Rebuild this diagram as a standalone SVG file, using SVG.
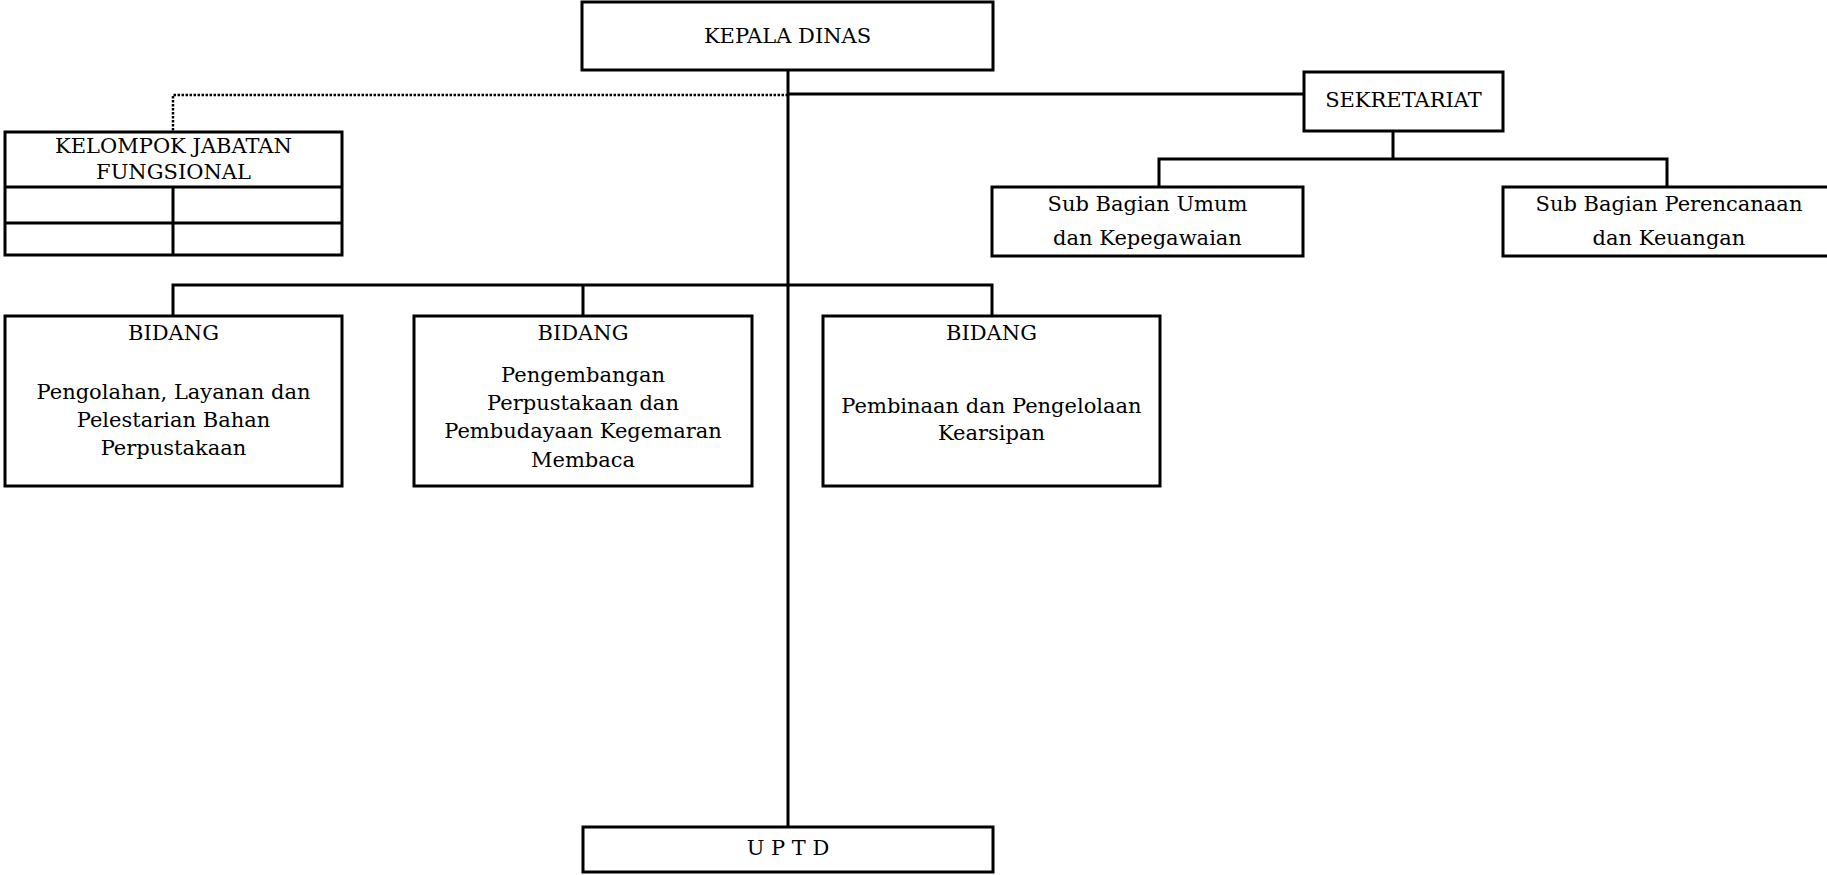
<svg xmlns="http://www.w3.org/2000/svg" width="1827" height="875" viewBox="0 0 1827 875">
<style>
.box{fill:#fff;stroke:#000;stroke-width:3}
.ln{fill:none;stroke:#000;stroke-width:3}
.dot{fill:none;stroke:#000;stroke-width:2.5;stroke-dasharray:2.5 1.5}
text{font-family:"DejaVu Serif","Liberation Serif",serif;font-size:21px;fill:#000;text-anchor:middle}
</style>
<rect width="1827" height="875" fill="#fff"/>
<g id="connectors">
<line class="ln" x1="788" y1="70" x2="788" y2="827"/>
<line class="ln" x1="788" y1="94" x2="1304" y2="94"/>
<path class="dot" d="M788 95 H173 V132"/>
<line class="ln" x1="1393" y1="131" x2="1393" y2="159"/>
<path class="ln" d="M1159 187 V159 H1667 V187"/>
<path class="ln" d="M173 316 V285 H992 V316"/>
<line class="ln" x1="583" y1="285" x2="583" y2="316"/>
</g>
<g id="kepala-dinas">
<rect class="box" x="582" y="2" width="411" height="68"/>
<text x="787.5" y="43">KEPALA DINAS</text>
</g>
<g id="kelompok-jabatan-fungsional">
<rect class="box" x="5" y="132" width="337" height="123"/>
<line class="ln" x1="5" y1="187" x2="342" y2="187"/>
<line class="ln" x1="5" y1="223" x2="342" y2="223"/>
<line class="ln" x1="173" y1="187" x2="173" y2="255"/>
<text x="173.5" y="153">KELOMPOK JABATAN</text>
<text x="173.5" y="179">FUNGSIONAL</text>
</g>
<g id="sekretariat">
<rect class="box" x="1304" y="72" width="199" height="59"/>
<text x="1403.5" y="107">SEKRETARIAT</text>
</g>
<g id="subbag-umum">
<rect class="box" x="992" y="187" width="311" height="69"/>
<text x="1147.5" y="211">Sub Bagian Umum</text>
<text x="1147.5" y="245">dan Kepegawaian</text>
</g>
<g id="subbag-perencanaan">
<rect class="box" x="1503" y="187" width="328" height="69"/>
<text x="1669" y="211">Sub Bagian Perencanaan</text>
<text x="1669" y="245">dan Keuangan</text>
</g>
<g id="bidang-1">
<rect class="box" x="5" y="316" width="337" height="170"/>
<text x="173.5" y="340">BIDANG</text>
<text x="173.5" y="399">Pengolahan, Layanan dan</text>
<text x="173.5" y="427">Pelestarian Bahan</text>
<text x="173.5" y="455">Perpustakaan</text>
</g>
<g id="bidang-2">
<rect class="box" x="414" y="316" width="338" height="170"/>
<text x="583" y="340">BIDANG</text>
<text x="583" y="382">Pengembangan</text>
<text x="583" y="410">Perpustakaan dan</text>
<text x="583" y="438">Pembudayaan Kegemaran</text>
<text x="583" y="467">Membaca</text>
</g>
<g id="bidang-3">
<rect class="box" x="823" y="316" width="337" height="170"/>
<text x="991.5" y="340">BIDANG</text>
<text x="991.5" y="413">Pembinaan dan Pengelolaan</text>
<text x="991.5" y="440">Kearsipan</text>
</g>
<g id="uptd">
<rect class="box" x="583" y="827" width="410" height="45"/>
<text x="788" y="855">U P T D</text>
</g>
</svg>
